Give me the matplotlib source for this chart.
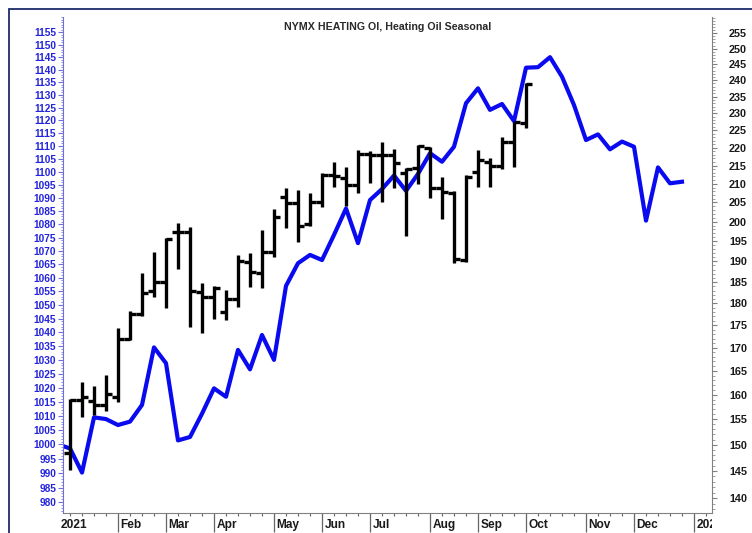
import matplotlib
matplotlib.use("Agg")
import matplotlib.pyplot as plt
import matplotlib.dates as mdates
from matplotlib.ticker import FixedLocator, FuncFormatter, NullFormatter, FixedFormatter
from matplotlib.patches import Rectangle
from matplotlib.transforms import ScaledTranslation
import pandas as pd

plt.rcParams['font.family'] = ['Liberation Sans', 'DejaVu Sans']
plt.rcParams['font.weight'] = 'bold'

# weekly axis (Mondays)
weeks = pd.date_range("2020-12-28", periods=53, freq="7D")

# seasonal index (left axis)
seasonal = [1000.0, 998.6, 990.2, 1009.5, 1008.9, 1006.8, 1008.0, 1013.9, 1034.5, 1028.8,
            1001.4, 1002.6, 1010.8, 1019.8, 1016.8, 1033.6, 1026.6, 1039.0, 1030.0, 1057.0,
            1065.4, 1068.5, 1066.6, 1076.0, 1086.0, 1072.9, 1089.2, 1093.4, 1098.6, 1092.7,
            1099.2, 1107.2, 1103.9, 1109.7, 1126.7, 1132.6, 1124.1, 1126.4, 1119.7, 1140.8,
            1141.0, 1145.0, 1137.2, 1126.0, 1112.3, 1114.5, 1108.7, 1111.7, 1109.7, 1081.4,
            1101.7, 1095.6, 1096.2]

# weekly heating oil bars (right axis), weeks 1..39
opens = [148.4, 159.0, 158.7, 157.9, 159.6, 171.9, 177.5, 183.0, 185.0, 197.3,
         197.3, 182.7, 181.4, 178.0, 180.9, 189.9, 187.1, 192.4, 206.4, 204.8,
         199.4, 205.2, 212.4, 211.5, 209.7, 218.2, 217.9, 217.9, 213.0, 214.3,
         220.0, 208.8, 207.5, 190.3, 213.3, 216.1, 214.9, 221.5, 227.1]
highs = [159.2, 162.7, 161.8, 164.1, 174.3, 178.2, 187.1, 192.4, 195.7, 199.6,
         198.7, 184.7, 184.0, 183.1, 191.5, 192.1, 197.8, 203.2, 208.8, 208.3,
         207.6, 213.0, 216.0, 214.7, 219.3, 219.1, 221.7, 219.5, 214.3, 220.8,
         220.3, 211.9, 208.1, 212.4, 219.3, 217.0, 223.2, 227.5, 239.1]
lows = [145.2, 155.5, 155.9, 156.7, 158.4, 171.7, 177.0, 181.4, 179.0, 188.1,
        174.6, 173.2, 176.5, 176.2, 179.1, 183.9, 183.5, 191.1, 198.3, 194.9,
        199.0, 203.7, 209.2, 204.1, 207.4, 210.3, 205.2, 208.8, 196.3, 210.0,
        206.1, 200.6, 189.7, 189.9, 209.2, 209.2, 214.0, 214.5, 225.8]
closes = [158.8, 159.6, 157.9, 160.1, 171.9, 177.5, 182.4, 185.1, 195.5, 197.3,
          182.8, 181.4, 183.7, 180.9, 190.1, 187.4, 192.4, 201.3, 204.9, 198.9,
          205.2, 212.4, 212.2, 209.7, 218.2, 217.9, 217.9, 215.6, 214.0, 220.5,
          208.8, 207.9, 190.5, 211.9, 216.5, 214.9, 221.5, 227.3, 238.8]

month_dates = ["2021-02-01", "2021-03-01", "2021-03-29", "2021-05-03", "2021-05-31",
               "2021-06-28", "2021-08-02", "2021-08-30", "2021-09-27", "2021-11-01",
               "2021-11-29", "2022-01-03"]
month_labels = ["Feb", "Mar", "Apr", "May", "Jun", "Jul", "Aug", "Sep", "Oct", "Nov",
                "Dec", "2022"]

W, H = 752, 533
fig = plt.figure(figsize=(W / 100, H / 100), dpi=100)
ax_l, ax_r, ax_b, ax_t = 63.3, 711.5, 513.3, 17
ax = fig.add_axes([ax_l / W, 1 - ax_b / H, (ax_r - ax_l) / W, (ax_b - ax_t) / H])
ax2 = ax.twinx()

x = mdates.date2num(weeks)
ax.plot(x, seasonal, color="#0a0af0", lw=3.0, zorder=2)

xb = x[1:1 + len(opens)]
bar_kw = dict(color="black", lw=2.4)
ax2.vlines(xb, lows, highs, **bar_kw)
ax2.hlines(opens, xb - 3.4, xb, **bar_kw)
ax2.hlines(closes, xb, xb + 3.4, **bar_kw)

# x axis
ax.set_xlim(mdates.date2num(pd.Timestamp("2020-12-31 02:10")),
            mdates.date2num(pd.Timestamp("2022-01-13 05:00")))
ax.xaxis.set_major_locator(FixedLocator(mdates.date2num(pd.to_datetime(month_dates))))
ax.xaxis.set_major_formatter(FixedFormatter(month_labels))
ax.xaxis.set_minor_locator(FixedLocator(mdates.date2num(pd.date_range("2020-12-28", periods=56, freq="7D"))))
ax.tick_params(axis="x", which="major", length=14, width=0.9, color="#666666",
               pad=-10, labelsize=8.6, labelcolor="#1a1a1a")
ax.tick_params(axis="x", which="minor", length=2.4, width=0.8, color="#666666")

# left axis (seasonal)
ax.set_yscale("log")
ax.set_ylim(976.2, 1161.2)
ax.yaxis.set_major_locator(FixedLocator(range(980, 1156, 5)))
ax.yaxis.set_minor_locator(FixedLocator(range(977, 1162)))
ax.yaxis.set_major_formatter(FuncFormatter(lambda v, p: f"{v:.0f}"))
ax.yaxis.set_minor_formatter(NullFormatter())
ax.tick_params(axis="y", which="major", length=3.6, width=0.8, color="#7070d8",
               pad=1.6, labelsize=7.3, labelcolor="#2424dd")
ax.tick_params(axis="y", which="minor", length=1.6, width=0.6, color="#8080dd")

# right axis (price)
ax2.set_yscale("log")
ax2.set_ylim(137.3, 260.4)
ax2.yaxis.set_major_locator(FixedLocator(range(140, 256, 5)))
ax2.yaxis.set_minor_locator(FixedLocator(range(138, 261)))
ax2.yaxis.set_major_formatter(FuncFormatter(lambda v, p: f"{v:.0f}"))
ax2.yaxis.set_minor_formatter(NullFormatter())
ax2.tick_params(axis="y", which="major", length=3.6, width=0.8, color="#808080",
                pad=9, labelsize=7.8, labelcolor="#1a1a1a")
ax2.tick_params(axis="y", which="minor", length=1.8, width=0.6, color="#909090")

for a in (ax, ax2):
    a.spines["top"].set_visible(False)
ax.spines["right"].set_visible(False)
ax2.spines["left"].set_visible(False)
ax2.spines["bottom"].set_visible(False)
ax.spines["left"].set_color("#7070d8")
ax.spines["bottom"].set_color("#808080")
ax2.spines["right"].set_color("#808080")

# month labels sit to the right of their tick, clipped to the plot width
clip = Rectangle((ax_l / W, 0), (ax_r - ax_l) / W, 1, transform=fig.transFigure)
shift = ScaledTranslation(1.8 / 72, 0, fig.dpi_scale_trans)
for t in ax.xaxis.get_major_ticks():
    t.label1.set_horizontalalignment("left")
    t.label1.set_transform(t.label1.get_transform() + shift)
    t.label1.set_clip_path(clip)

# the 2021 tick sits just left of the plot, so only its label shows (clipped)
first = ax.text(mdates.date2num(pd.Timestamp("2020-12-28")), 0, "2021",
                transform=ax.get_xaxis_transform() + ScaledTranslation(1.8 / 72, -4.3 / 72, fig.dpi_scale_trans),
                ha="left", va="top", fontsize=8.6, color="#1a1a1a")
first.set_clip_path(clip)

fig.text(((ax_l + ax_r) / 2) / W, 1 - 26.7 / H, "NYMX HEATING OI, Heating Oil Seasonal",
         ha="center", va="center", fontsize=7.7, color="#2a2a2a")

fig.add_artist(Rectangle((9.3 / W, -0.5), 5, 1.5 - 9.3 / H, transform=fig.transFigure,
                         fill=False, edgecolor="#1c2b6b", lw=1.3))

fig.savefig("out.png", dpi=100)
